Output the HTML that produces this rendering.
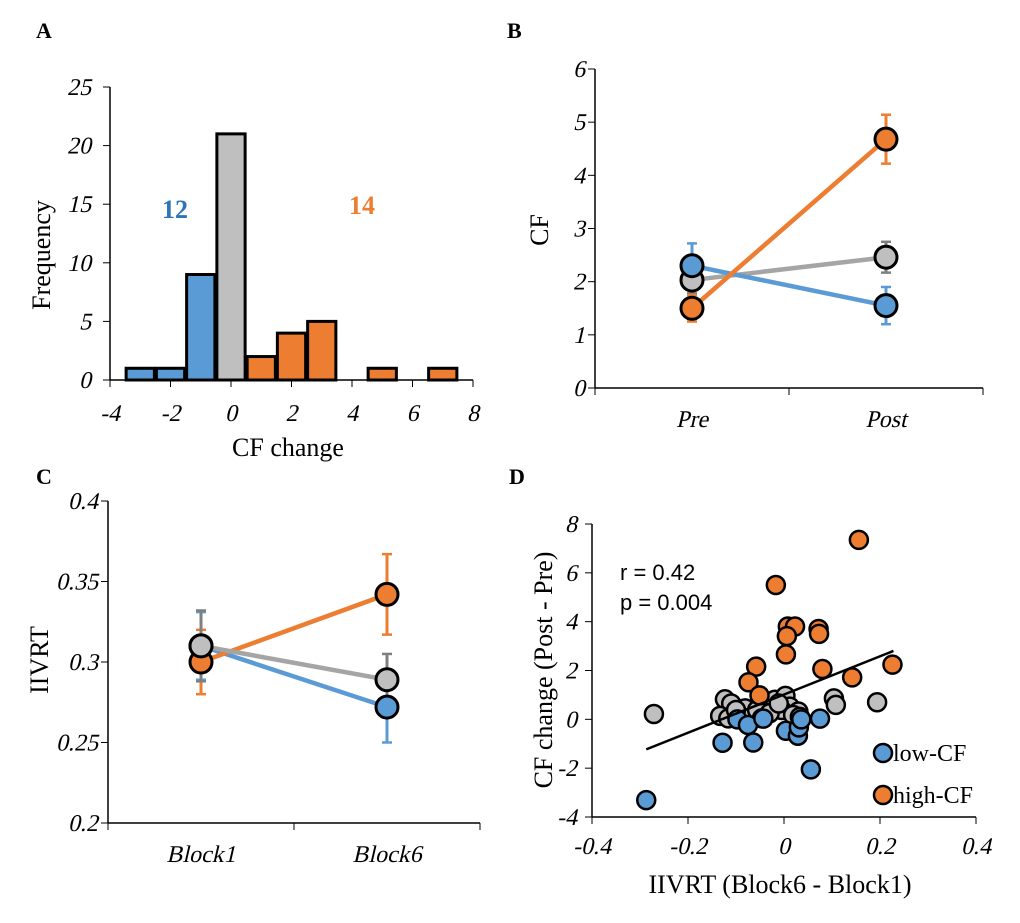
<!DOCTYPE html>
<html><head><meta charset="utf-8"><style>
body{margin:0;background:#fff}
svg{display:block}
text{font-family:"Liberation Serif",serif;fill:#000}
.lab{font-family:"Liberation Serif",serif;font-size:26px}
.pl{font-family:"Liberation Serif",serif;font-weight:bold;font-size:22px}
</style></head><body>
<svg id="fig" width="1020" height="923" viewBox="0 0 1020 923" xmlns="http://www.w3.org/2000/svg">
<text class="pl" x="36" y="38">A</text>
<text class="pl" x="507" y="38">B</text>
<text class="pl" x="36" y="484">C</text>
<text class="pl" x="509" y="484">D</text>
<text class="lab" transform="translate(50,255) rotate(-90)" text-anchor="middle">Frequency</text>
<text class="lab" x="288" y="456" text-anchor="middle">CF change</text>
<text x="175" y="218" font-size="26" font-weight="bold" style="fill:#2e75b6" text-anchor="middle">12</text>
<text x="362" y="214" font-size="26" font-weight="bold" style="fill:#ed7d31" text-anchor="middle">14</text>
<text class="lab" transform="translate(548,230) rotate(-90)" text-anchor="middle">CF</text>
<text class="lab" transform="translate(48,660) rotate(-90)" text-anchor="middle">IIVRT</text>
<text class="lab" transform="translate(552,670) rotate(-90)" text-anchor="middle">CF change (Post - Pre)</text>
<text class="lab" x="780" y="893" text-anchor="middle">IIVRT (Block6 - Block1)</text>
<text x="620" y="580" font-size="22" style="font-family:'Liberation Sans',sans-serif">r = 0.42</text>
<text x="620" y="610" font-size="22" style="font-family:'Liberation Sans',sans-serif">p  = 0.004</text>
</svg>
<script>
const histCenters=[-3,-2,-1,0,1,2,3,5,7];
const histCounts=[1,1,9,21,2,4,5,1,1];
const histGroups=['low','low','low','mid','high','high','high','high','high'];
const histXTicks=[-4,-2,0,2,4,6,8];
const histYTicks=[0,5,10,15,20,25];

const prePostCats=['Pre','Post'];
const cfLow=[2.3,1.55], cfLowErr=[0.42,0.35];
const cfMid=[2.03,2.46], cfMidErr=[0.25,0.29];
const cfHigh=[1.5,4.68], cfHighErr=[0.25,0.46];
const cfYTicks=[0,1,2,3,4,5,6];

const blockCats=['Block1','Block6'];
const ivLow=[0.31,0.272], ivLowErr=[0.021,0.022];
const ivMid=[0.31,0.289], ivMidErr=[0.022,0.016];
const ivHigh=[0.30,0.342], ivHighErr=[0.02,0.025];
const ivYTicks=['0.2','0.25','0.3','0.35','0.4'];

const lowX=[-0.287,-0.128,-0.064,0.056,-0.097,-0.075,-0.043,0.004,0.029,0.031,0.036,0.075];
const lowY=[-3.31,-0.96,-0.95,-2.05,0,-0.23,0.03,-0.47,-0.67,-0.33,0,0.03];
const midX=[-0.271,-0.123,-0.11,-0.133,-0.116,-0.081,-0.056,-0.046,-0.019,0.003,0.012,0.03,0.104,0.108,0.194,-0.005,0.019,-0.03,-0.1,-0.011,0.033];
const midY=[0.22,0.82,0.65,0.14,0.04,0.45,0.38,0.04,0.8,0.96,0.52,0.32,0.86,0.59,0.7,0.38,0.18,0.25,0.38,0.65,0.1];
const highX=[0.156,-0.017,0.008,0.023,0.006,0.072,0.073,0.004,-0.058,0.08,-0.074,-0.051,0.142,0.226];
const highY=[7.35,5.5,3.8,3.8,3.41,3.7,3.5,2.66,2.16,2.06,1.52,0.98,1.72,2.24];
const fitX=[-0.287,0.228];
const fitY=[-1.23,2.8];
const dXTicks=['-0.4','-0.2','0','0.2','0.4'];
const dYTicks=[-4,-2,0,2,4,6,8];

const C={low:'#5b9bd5',mid:'#bfbfbf',high:'#ed7d31'};
const EC={low:'#5b9bd5',mid:'#7f7f7f',high:'#ed7d31'};
const svg=document.getElementById('fig');
const NS='http://www.w3.org/2000/svg';
function mk(tag,attrs,parent){const e=document.createElementNS(NS,tag);for(const k in attrs)e.setAttribute(k,attrs[k]);(parent||svg).appendChild(e);return e;}
function lin(d0,d1,r0,r1){return v=>r0+(v-d0)*(r1-r0)/(d1-d0);}
function tickText(x,y,anchor,str){
 const t=mk('text',{x:0,y:0,'text-anchor':anchor,transform:'translate('+x+','+y+') skewX(-13)','font-family':'Liberation Serif, DejaVu Serif, serif','font-size':24});
 t.style.fontFamily='"Liberation Serif", serif';t.style.fontStyle='normal';
 t.textContent=str;return t;}

// Panel A
(function(){
 const x=lin(-4,8,110,473), y=lin(0,25,380,87);
 let e=mk('line',{x1:110,y1:380,x2:473,y2:380,stroke:'#000','stroke-width':1.5});
 
 e=mk('line',{x1:110,y1:87,x2:110,y2:380,stroke:'#000','stroke-width':1.5});
 
 histYTicks.forEach(v=>{mk('line',{x1:103,x2:110,y1:y(v),y2:y(v),stroke:'#000'});
  const t=tickText(91,y(v)+8,'end',v);
  });
 histXTicks.forEach(v=>{mk('line',{x1:x(v),x2:x(v),y1:380,y2:387,stroke:'#000'});
  const t=tickText(x(v),421,'middle',v);
  });
 histCenters.forEach((c,i)=>{const r=mk('rect',{x:x(c-0.5)+1,y:y(histCounts[i]),width:x(c+0.5)-x(c-0.5)-2,height:380-y(histCounts[i]),fill:C[histGroups[i]],stroke:'#000','stroke-width':3});
  });
})();

function linePanel(o){
 const x0=o.x0,x1=o.x1,yb=o.yb,yt=o.yt;
 const y=lin(o.ymin,o.ymax,yb,yt);
 let e=mk('line',{x1:x0,y1:yb,x2:x1,y2:yb,stroke:'#000','stroke-width':1.5});
 
 e=mk('line',{x1:x0,y1:yt,x2:x0,y2:yb,stroke:'#000','stroke-width':1.5});
 
 o.yTicks.forEach(v=>{const vv=+v;mk('line',{x1:x0-7,x2:x0,y1:y(vv),y2:y(vv),stroke:'#000'});
  const t=tickText(x0-10,y(vv)+8,'end',v);
  });
 const mid=(x0+x1)/2;
 [x0,mid,x1].forEach(tx=>mk('line',{x1:tx,x2:tx,y1:yb,y2:yb+7,stroke:'#000'}));
 const cx=i=>x0+(x1-x0)*(0.25+0.5*i);
 o.cats.forEach((c,i)=>{const t=tickText(cx(i),yb+39,'middle',c);
  });
 o.series.forEach(s=>{
  s.v.forEach((v,i)=>{const g=mk('line',{x1:cx(i),x2:cx(i),y1:y(v-s.e[i]),y2:y(v+s.e[i]),stroke:EC[s.k],'stroke-width':3});
   
   [v-s.e[i],v+s.e[i]].forEach(w=>mk('line',{x1:cx(i)-5,x2:cx(i)+5,y1:y(w),y2:y(w),stroke:EC[s.k],'stroke-width':2.5}));});
 });
 o.series.forEach(s=>{const l=mk('line',{x1:cx(0),y1:y(s.v[0]),x2:cx(1),y2:y(s.v[1]),stroke:s.k==='mid'?'#a5a5a5':C[s.k],'stroke-width':4.5});
  });
 o.series.forEach(s=>s.v.forEach((v,i)=>{const c=mk('circle',{cx:cx(i),cy:y(v),r:11,fill:C[s.k],stroke:'#000','stroke-width':3});
  }));
}
linePanel({p:'panel-b',x0:595,x1:983,yb:388,yt:69,ymin:0,ymax:6,yTicks:cfYTicks,cats:prePostCats,
 series:[{k:'mid',v:cfMid,e:cfMidErr},{k:'low',v:cfLow,e:cfLowErr},{k:'high',v:cfHigh,e:cfHighErr}]});
linePanel({p:'panel-c',x0:108,x1:480,yb:823,yt:501,ymin:0.2,ymax:0.4,yTicks:ivYTicks,cats:blockCats,
 series:[{k:'low',v:ivLow,e:ivLowErr},{k:'high',v:ivHigh,e:ivHighErr},{k:'mid',v:ivMid,e:ivMidErr}]});

// Panel D
(function(){
 const x=lin(-0.4,0.4,592,976), y=lin(-4,8,817,524);
 let e=mk('line',{x1:592,y1:817,x2:976,y2:817,stroke:'#000','stroke-width':1.5});
 
 e=mk('line',{x1:592,y1:524,x2:592,y2:817,stroke:'#000','stroke-width':1.5});
 
 dYTicks.forEach(v=>{mk('line',{x1:585,x2:592,y1:y(v),y2:y(v),stroke:'#000'});
  const t=tickText(577,y(v)+8,'end',v);
  });
 dXTicks.forEach(v=>{mk('line',{x1:x(+v),x2:x(+v),y1:817,y2:824,stroke:'#000'});
  const t=tickText(x(+v),854,'middle',v);
  });
 function pts(xs,ys,k){xs.forEach((v,i)=>{const c=mk('circle',{cx:x(v),cy:y(ys[i]),r:9,fill:C[k],stroke:'#000','stroke-width':2.5});
  });}
 pts(midX,midY,'mid');pts(lowX,lowY,'low');pts(highX,highY,'high');
 const f=mk('line',{x1:x(fitX[0]),y1:y(fitY[0]),x2:x(fitX[1]),y2:y(fitY[1]),stroke:'#000','stroke-width':2.5});
 
 [['low','low-CF',753],['high','high-CF',795]].forEach(a=>{
  const c=mk('circle',{cx:883,cy:a[2],r:9,fill:C[a[0]],stroke:'#000','stroke-width':2.5});
  
  const t=mk('text',{x:893,y:a[2]+8,'font-size':24,'font-family':'Liberation Serif, serif'});t.textContent=a[1];
  });
})();
</script>
</body></html>
